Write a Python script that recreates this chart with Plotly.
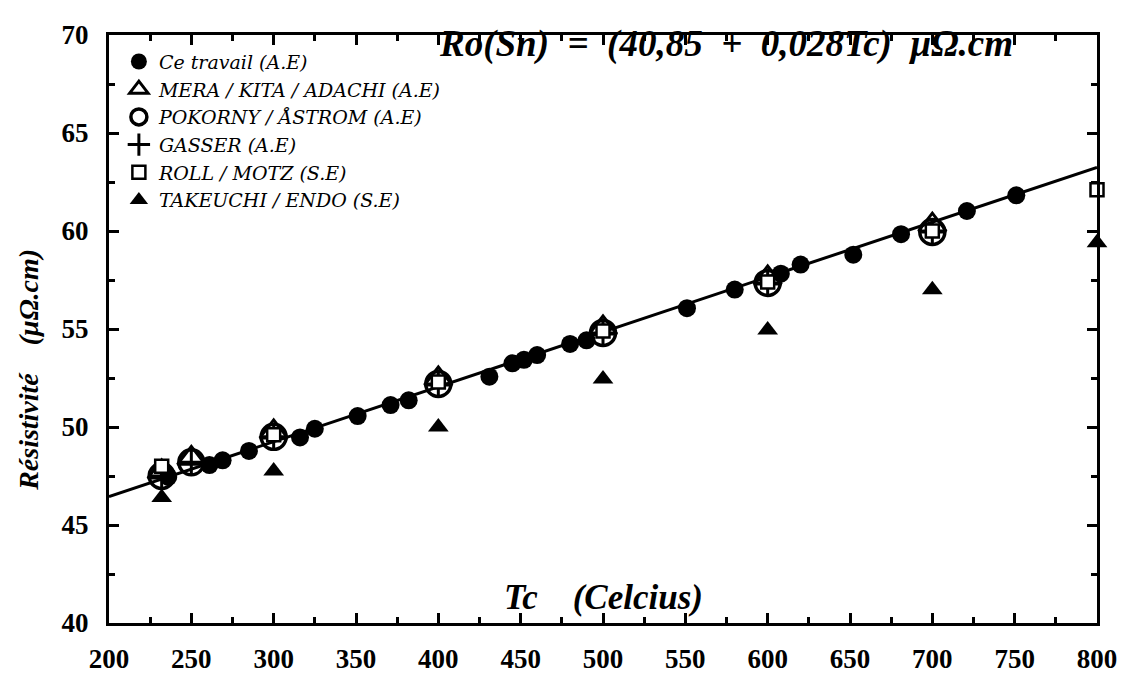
import plotly.graph_objects as go

# ---- data ----
ce_tc = [236, 261, 269, 285, 316, 325, 351, 371, 382, 431, 445, 452, 460, 480, 490,
         551, 580, 608, 620, 652, 681, 721, 751]
ce_val = [47.45, 48.06, 48.30, 48.78, 49.47, 49.91, 50.56, 51.12, 51.36, 52.57, 53.25,
          53.43, 53.67, 54.24, 54.42, 56.06, 57.01, 57.82, 58.29, 58.79, 59.84, 61.02, 61.82]

mera_tc = [232, 250, 300, 400, 500, 600, 700]
mera_val = [47.7, 48.4, 49.75, 52.45, 55.05, 57.6, 60.3]

pok_tc = [232, 250, 300, 400, 500, 600, 700]
pok_val = [47.5, 48.2, 49.5, 52.2, 54.8, 57.35, 59.95]

gas_tc = [232, 250, 300, 400, 500, 600, 700]
gas_val = [47.5, 48.2, 49.5, 52.2, 54.8, 57.35, 59.95]

roll_tc = [232, 300, 400, 500, 600, 700, 800]
roll_val = [48.0, 49.6, 52.3, 54.9, 57.4, 60.0, 62.1]

tak_tc = [232, 300, 400, 500, 600, 700, 800]
tak_val = [46.4, 47.75, 50.0, 52.45, 54.95, 57.0, 59.4]

fit_tc = [200, 800]
fit_val = [46.45, 63.25]

x_ticks = [200, 250, 300, 350, 400, 450, 500, 550, 600, 650, 700, 750, 800]
y_ticks = [40, 45, 50, 55, 60, 65, 70]

SERIF = "Liberation Serif"
BLACK = "black"

fig = go.Figure()

fig.add_trace(go.Scatter(x=fit_tc, y=fit_val, mode="lines",
                         line=dict(color=BLACK, width=3), showlegend=False,
                         hoverinfo="skip"))

def pts(x, y, name, marker):
    fig.add_trace(go.Scatter(x=x, y=y, mode="markers", name=name, marker=marker,
                             cliponaxis=False))

pts(ce_tc, ce_val, "Ce travail (A.E)",
    dict(symbol="circle", size=18, color=BLACK))
pts(mera_tc, mera_val, "MERA / KITA / ADACHI (A.E)",
    dict(symbol="triangle-up-open", size=24, color=BLACK, line=dict(color=BLACK, width=3)))
pts(pok_tc, pok_val, "POKORNY / ÅSTROM (A.E)",
    dict(symbol="circle-open", size=25, color=BLACK, line=dict(color=BLACK, width=3.5)))
pts(gas_tc, gas_val, "GASSER (A.E)",
    dict(symbol="cross-thin", size=16, color=BLACK, line=dict(color=BLACK, width=3)))
pts(roll_tc, roll_val, "ROLL / MOTZ (S.E)",
    dict(symbol="square", size=13, color="white", line=dict(color=BLACK, width=2.5)))
pts(tak_tc, tak_val, "TAKEUCHI / ENDO (S.E)",
    dict(symbol="triangle-up", size=18, color=BLACK))

axis_common = dict(
    showline=True, linecolor=BLACK, linewidth=3, mirror="ticks",
    ticks="inside", ticklen=10, tickwidth=2.5, tickcolor=BLACK,
    showgrid=False, zeroline=False,
    tickfont=dict(family=SERIF, size=27, color=BLACK, weight="bold"),
)

fig.update_xaxes(range=[200, 800], tickvals=x_ticks, ticktext=[str(v) for v in x_ticks],
                 ticklabelstandoff=10,
                 minor=dict(dtick=25, ticks="inside", ticklen=6, tickwidth=2.5,
                            tickcolor=BLACK, showgrid=False),
                 **axis_common)
fig.update_yaxes(range=[40, 70], tickvals=y_ticks, ticktext=[str(v) for v in y_ticks],
                 ticklabelstandoff=12,
                 minor=dict(dtick=2.5, ticks="inside", ticklen=6, tickwidth=2.5,
                            tickcolor=BLACK, showgrid=False),
                 **axis_common)

fig.add_annotation(x=500, y=41.3, xref="x", yref="y", showarrow=False,
                   text="Tc    (Celcius)",
                   font=dict(family=SERIF, size=35, color=BLACK, weight="bold",
                             style="italic"))
fig.add_annotation(x=0.6245, y=0.985, xref="paper", yref="paper", showarrow=False,
                   xanchor="center", yanchor="middle",
                   text="Ro(Sn)  =  (40,85  +  0,028Tc)  μΩ.cm",
                   font=dict(family=SERIF, size=37, color=BLACK, weight="bold",
                             style="italic"))
fig.add_annotation(x=-0.1, y=0.43, xref="paper", yref="paper", showarrow=False,
                   textangle=-90, xanchor="left", yanchor="middle",
                   text="Résistivité    (μΩ.cm)",
                   font=dict(family=SERIF, size=28, color=BLACK, weight="bold",
                             style="italic"))

fig.update_layout(
    width=1137, height=678,
    margin=dict(l=101, r=48, t=24, b=52),
    paper_bgcolor="white", plot_bgcolor="white",
    showlegend=True,
    legend=dict(x=0.01, y=0.987, xanchor="left", yanchor="top",
                bgcolor="rgba(0,0,0,0)", tracegroupgap=0,
                font=dict(family="DejaVu Serif", size=19, color=BLACK, style="italic")),
)

fig.write_html("out.html")
